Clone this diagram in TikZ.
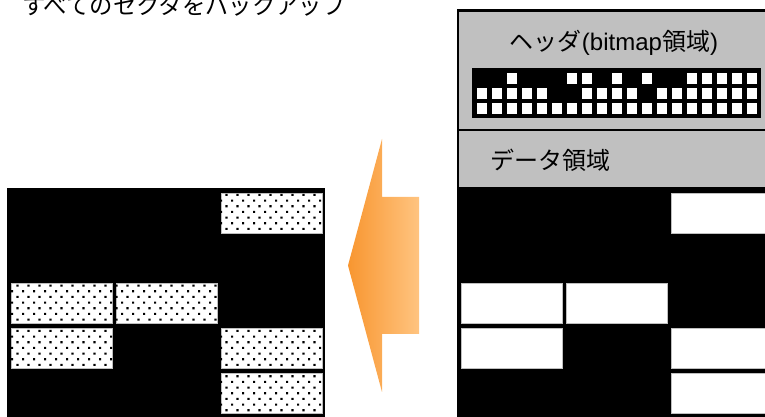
\documentclass[tikz,border=0pt]{standalone}
\usepackage{fontspec}
\setmainfont{Liberation Sans}
\newfontfamily\jpfont{Noto Sans CJK JP}
\usepackage{tikz}
\usetikzlibrary{patterns}

\pgfdeclarepatternformonly{sectordots}{\pgfqpoint{-1pt}{-1pt}}{\pgfqpoint{9.25pt}{9.5pt}}{\pgfqpoint{8.25pt}{8.5pt}}{
  \pgfpathrectangle{\pgfqpoint{0pt}{0pt}}{\pgfqpoint{1.6pt}{1.6pt}}
  \pgfpathrectangle{\pgfqpoint{4.1pt}{4.25pt}}{\pgfqpoint{1.6pt}{1.6pt}}
  \pgfusepath{fill}}

\definecolor{hdrgray}{RGB}{192,192,192}
\definecolor{arrowdark}{RGB}{248,150,48}
\definecolor{arrowlight}{RGB}{255,196,128}

\tikzset{
  cellfree/.style={fill=white, draw=black!25, line width=0.4pt},
  celldots/.style={cellfree, postaction={pattern=sectordots}},
  label/.style={font=\fontsize{18}{21}\selectfont, inner sep=0pt}
}

\begin{document}
\begin{tikzpicture}[x=0.75pt,y=-0.75pt]
\useasboundingbox (0,0) rectangle (765,417);
\clip (0,0) rectangle (765,417);

\node[label, font=\fontsize{17.5}{20}\selectfont, anchor=base west] (title) at (22,15) {\jpfont すべてのセクタをバックアップ};

\fill (7,188) rectangle (325,417);
\foreach \c/\r in {2/0,0/2,1/2,0/3,2/3,2/4}
  \path[celldots] ({11+105*\c},{193+45*\r}) rectangle +(101,40);

\shade[left color=arrowdark, right color=arrowlight] (419,197) -- (382,197) -- (382,139) -- (348,265.5) -- (382,392) -- (382,334) -- (419,334) -- cycle;

\filldraw[fill=hdrgray, line width=2.2pt] (458,10.5) rectangle (800,430);
\draw[line width=2.2pt] (458,130) -- (800,130);
\draw[line width=2.2pt] (458,188) -- (800,188);
\fill (458,188) rectangle (800,430);
\node[label] (hdrtext) at (614,43) {{\jpfont ヘッダ}(bitmap{\jpfont 領域})};
\node[label, anchor=west] (datatext) at (490,160) {\jpfont データ領域};

\fill (472,68) rectangle (761,118);
\foreach \i in {2,6,7,9,11,14,15,16,17,18}
  \fill[white] ({476.7+15*\i},73.3) rectangle +(10.7,10.7);
\foreach \i in {0,1,2,3,4,7,8,9,10,12,13,14,15,16,17,18}
  \fill[white] ({476.7+15*\i},88.3) rectangle +(10.7,10.7);
\foreach \i in {0,...,18}
  \fill[white] ({476.7+15*\i},103.3) rectangle +(10.7,10.7);

\foreach \c/\r in {2/0,0/2,1/2,0/3,2/3,2/4}
  \path[cellfree] ({461+105*\c},{193+45*\r}) rectangle +(101,40);
\end{tikzpicture}
\end{document}
